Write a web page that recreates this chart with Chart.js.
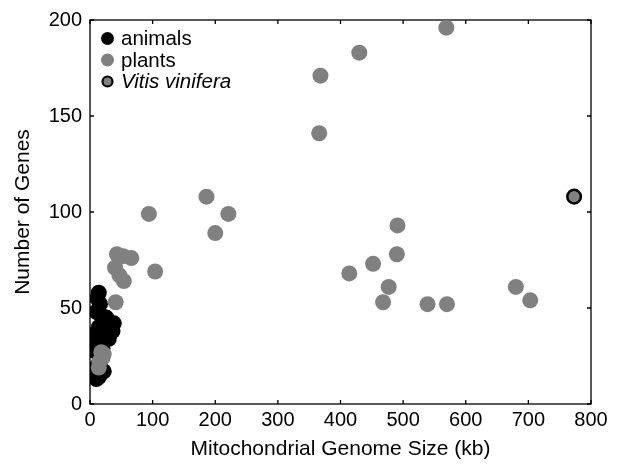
<!DOCTYPE html>
<html><head><meta charset="utf-8">
<script src="https://cdn.jsdelivr.net/npm/chart.js@4.4.1/dist/chart.umd.min.js"></script>
<style>html,body{margin:0;padding:0;background:#fff}</style>
</head><body>
<canvas id="c" width="618" height="464"></canvas>
<script>
// ---- data (kb, number of genes) ----
const animalKb    = [14,12,16,10,18,22,26,32,38,14,20,28,10,16,17,24,30,12,18,9,14,20,10,16,12,18,10,14,22,9,36,26];
const animalGenes = [58,55,52,48,46,44,43,42,42,40,38,38,37,37,37,36,34,34,33,32,30,29,27,25,20,16,13,14,17,16,38,45];
const plantKb     = [18,15,20,14,22,41,54,47,40,43,53,66,94,104,186,200,221,366,368,430,569,414,452,468,477,490,491,539,570,680,703];
const plantGenes  = [27,22,24,19,26,53,64,67,71,78,77,76,99,69,108,89,99,141,171,183,196,68,73,53,61,78,93,52,52,61,54];
const vitisKb     = [773];
const vitisGenes  = [108];
const xTicks = [0,100,200,300,400,500,600,700,800];
const yTicks = [0,50,100,150,200];
const legendLabels = ['animals','plants','Vitis vinifera'];

const toPts = (xs, ys) => xs.map((x, i) => ({x: x, y: ys[i]}));
const FONT = 'Liberation Sans, Arial, sans-serif';

const boxPlugin = {
  id: 'box',
  beforeDatasetsDraw(chart) {
    const {ctx, chartArea: a, scales: {x, y}} = chart;
    ctx.save();
    ctx.strokeStyle = '#000';
    ctx.lineWidth = 1.3;
    ctx.strokeRect(a.left, a.top, a.right - a.left, a.bottom - a.top);
    const tl = 4;
    ctx.beginPath();
    xTicks.forEach(v => {
      const px = x.getPixelForValue(v);
      ctx.moveTo(px, a.bottom); ctx.lineTo(px, a.bottom - tl);
      ctx.moveTo(px, a.top); ctx.lineTo(px, a.top + tl);
    });
    yTicks.forEach(v => {
      const py = y.getPixelForValue(v);
      ctx.moveTo(a.left, py); ctx.lineTo(a.left + tl, py);
      ctx.moveTo(a.right, py); ctx.lineTo(a.right - tl, py);
    });
    ctx.stroke();
    ctx.restore();
  },
  afterDraw(chart) {
    const {ctx} = chart;
    const ds = chart.data.datasets;
    const cx = 107.5, ys = [38.5, 60, 81.5];
    ctx.save();
    [0, 1, 2].forEach((di, i) => {
      const d = ds[di];
      ctx.beginPath();
      ctx.arc(cx, ys[i], di === 2 ? 5 : 6.5, 0, Math.PI * 2);
      ctx.fillStyle = d.backgroundColor;
      ctx.fill();
      if (di === 2) { ctx.lineWidth = 2.2; ctx.strokeStyle = '#000'; ctx.stroke(); }
      ctx.fillStyle = '#000';
      ctx.font = (di === 2 ? 'italic ' : '') + '20.5px ' + FONT;
      ctx.textBaseline = 'middle';
      ctx.textAlign = 'left';
      ctx.fillText(legendLabels[di], 121, ys[i] + 1);
    });
    ctx.restore();
  }
};

new Chart(document.getElementById('c'), {
  type: 'scatter',
  data: {
    datasets: [
      {label: legendLabels[0], data: toPts(animalKb, animalGenes), backgroundColor: '#000000', borderWidth: 0, pointRadius: 8, pointHoverRadius: 8, order: 3},
      {label: legendLabels[1], data: toPts(plantKb, plantGenes), backgroundColor: '#808080', borderWidth: 0, pointRadius: 8, pointHoverRadius: 8, order: 2},
      {label: legendLabels[2], data: toPts(vitisKb, vitisGenes), backgroundColor: '#808080', borderColor: '#000000', borderWidth: 2.5, pointRadius: 6.8, pointHoverRadius: 6.8, order: 1}
    ]
  },
  options: {
    responsive: false,
    animation: false,
    devicePixelRatio: 1,
    layout: {padding: {top: 16, right: 27, left: 0, bottom: 0}},
    plugins: {legend: {display: false}, tooltip: {enabled: false}},
    scales: {
      x: {
        type: 'linear', min: 0, max: 800,
        afterBuildTicks: s => { s.ticks = xTicks.map(v => ({value: v})); },
        afterFit: s => { s.height = 60; },
        grid: {display: false, drawTicks: false}, border: {display: false},
        ticks: {color: '#000', padding: 4, font: {family: FONT, size: 20}},
        title: {display: true, text: 'Mitochondrial Genome Size (kb)', color: '#000', font: {family: FONT, size: 21}, padding: {top: 0, bottom: 2}}
      },
      y: {
        type: 'linear', min: 0, max: 200,
        afterBuildTicks: s => { s.ticks = yTicks.map(v => ({value: v})); },
        afterFit: s => { s.width = 90; },
        grid: {display: false, drawTicks: false}, border: {display: false},
        ticks: {color: '#000', padding: 8, font: {family: FONT, size: 20}},
        title: {display: true, text: 'Number of Genes', color: '#000', font: {family: FONT, size: 21}, padding: {top: 11, bottom: 0}}
      }
    }
  },
  plugins: [boxPlugin]
});
</script>
</body></html>
